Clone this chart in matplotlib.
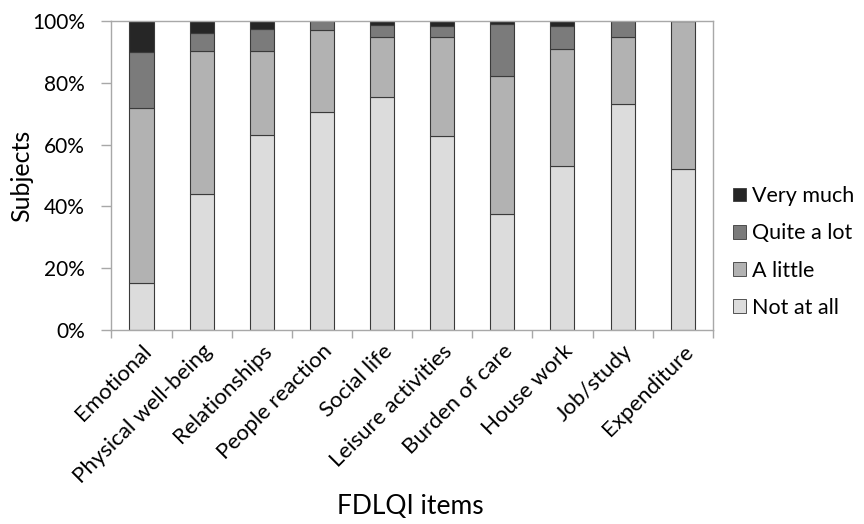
import matplotlib
matplotlib.use("Agg")
import matplotlib.pyplot as plt
import matplotlib.patches as mpatches
import numpy as np
from matplotlib.ticker import PercentFormatter

plt.rcParams["font.family"] = ["Lato", "DejaVu Sans"]

# ── 数据 ──────────────────────────────────────────────
items = ["Emotional", "Physical well-being", "Relationships", "People reaction",
         "Social life", "Leisure activities", "Burden of care", "House work",
         "Job/study", "Expenditure"]
not_at_all = [15.3, 43.9, 63.0, 70.4, 75.5, 62.7, 37.4, 53.2, 73.3, 52.0]
a_little = [56.5, 46.4, 27.4, 26.6, 19.4, 32.2, 44.8, 37.7, 21.6, 48.0]
quite_a_lot = [18.3, 5.8, 7.1, 3.0, 3.8, 3.4, 16.7, 7.5, 5.1, 0.0]
very_much = [9.9, 3.9, 2.6, 0.0, 1.3, 1.7, 1.1, 1.6, 0.0, 0.0]

series = [("Not at all", not_at_all, "#dcdcdc"),
          ("A little", a_little, "#b2b2b2"),
          ("Quite a lot", quite_a_lot, "#7b7b7b"),
          ("Very much", very_much, "#262626")]

fig = plt.figure(figsize=(8.64, 5.24), dpi=100, facecolor="white")
ax = fig.add_axes([0.129, 0.370, 0.696, 0.590])

x = np.arange(len(items))
bottom = np.zeros(len(items))
for label, vals, color in series:
    vals = np.array(vals)
    ax.bar(x, vals, width=0.4, bottom=bottom, color=color,
           edgecolor="#3a3a3a", linewidth=0.8, label=label)
    bottom += vals

ax.set_xlim(-0.5, len(items) - 0.5)
ax.set_ylim(0, 100)
ax.set_yticks(np.arange(0, 101, 20))
ax.yaxis.set_major_formatter(PercentFormatter(decimals=0))

# 分类刻度在类目之间
ax.set_xticks(x)
ax.set_xticklabels(items, rotation=45, ha="right", rotation_mode="anchor", fontsize=16)
ax.set_xticks(np.arange(-0.5, len(items), 1), minor=True)
ax.tick_params(axis="x", which="major", length=0, pad=8)
ax.tick_params(axis="x", which="minor", length=6, color="#a8a8a8", width=1)
ax.tick_params(axis="y", length=7, color="#a8a8a8", width=1, labelsize=15, pad=12)

for sp in ax.spines.values():
    sp.set_color("#a8a8a8")
    sp.set_linewidth(1)

ax.set_ylabel("Subjects", fontsize=18)
ax.yaxis.set_label_coords(-0.13, 0.5)
fig.text(0.475, 0.01, "FDLQI items", fontsize=19, ha="center", va="bottom")

handles = [mpatches.Patch(facecolor=c, edgecolor="#3a3a3a", linewidth=0.6, label=l)
           for l, _, c in series[::-1]]
fig.legend(handles=handles, loc="center left", bbox_to_anchor=(0.826, 0.519),
           frameon=False, fontsize=15.5, handlelength=0.6, handleheight=0.6,
           handletextpad=0.3, labelspacing=0.8)

fig.savefig("out.png", dpi=100, facecolor="white")
